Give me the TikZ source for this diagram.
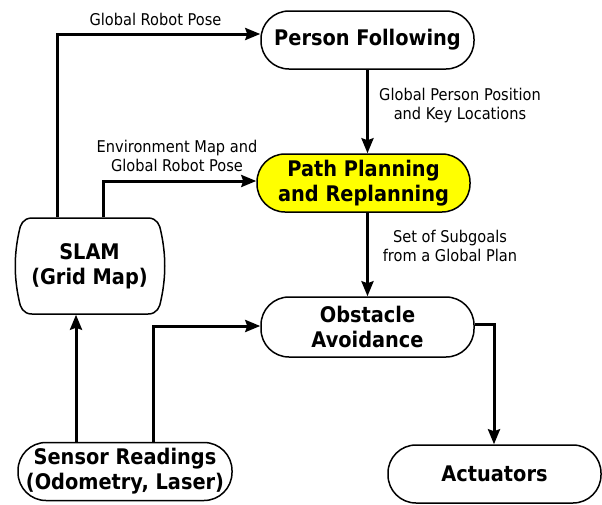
\documentclass[tikz,border=0pt]{standalone}
\usepackage{fontspec}
\setmainfont{DejaVu Sans}[FakeStretch=0.9]
\usetikzlibrary{arrows.meta}
\definecolor{boxyellow}{RGB}{255,255,0}
\tikzset{
  box/.style={draw=black, line width=1.5pt, rounded corners=28pt, minimum width=213pt, minimum height=58pt, inner sep=0pt, align=center, font=\fontsize{21.5}{25}\selectfont\bfseries},
  lab/.style={align=center, inner sep=0pt, font=\fontsize{16.2}{19}\selectfont},
  arr/.style={line width=3pt, -{Stealth[length=15pt,width=12pt,inset=2pt]}},
  plain/.style={line width=3pt}
}
\begin{document}
\begin{tikzpicture}[x=1pt,y=-1pt]
\useasboundingbox (0,0) rectangle (602,504);
% nodes
\node[box] (pf) at (367.5,40) {Person Following};
\node[box, fill=boxyellow] (pp) at (363.5,183) {Path Planning\\and Replanning};
\node[box, minimum height=60pt] (oa) at (367.5,327) {Obstacle\\Avoidance};
\node[box, minimum width=214pt] (sr) at (125,471.5) {Sensor Readings\\(Odometry, Laser)};
\node[box] (act) at (494.5,474) {Actuators};
\node[box, draw=none, minimum width=151pt, minimum height=96pt] (slam) at (89.5,266) {SLAM\\(Grid Map)};
\draw[line width=1.5pt] (32,218) -- (148,218)
  .. controls (157,218) and (160,225) .. (161,232)
  .. controls (166,255) and (166,277) .. (161,300)
  .. controls (160,307) and (157,314) .. (148,314)
  -- (32,314)
  .. controls (23,314) and (20,307) .. (19,300)
  .. controls (14,277) and (14,255) .. (19,232)
  .. controls (20,225) and (23,218) .. (32,218) -- cycle;
% bend points
\coordinate (c1) at (57,34);
\coordinate (c2) at (103,181);
\coordinate (c3) at (76,0);
\coordinate (c4) at (153,326);
\coordinate (c5) at (494,324);
% connectors
\draw[arr] (slam.north -| c1) |- (pf.west |- c1);
\draw[arr] (slam.north -| c2) |- (pp.west |- c2);
\draw[arr] (pf.south) -- (pp.north -| pf.south);
\draw[arr] (pp.south -| oa.north) -- (oa.north);
\draw[arr] (sr.north -| c3) -- (slam.south -| c3);
\draw[arr] (sr.north -| c4) |- (oa.west |- c4);
\draw[arr] (oa.east |- c5) -| (act.north -| c5);
% labels
\node[lab] (l1) at (155.5,19) {Global Robot Pose};
\node[lab] (l2) at (177,155.5) {Environment Map and\\Global Robot Pose};
\node[lab] (l3) at (460,105.5) {Global Person Position\\and Key Locations};
\node[lab] (l4) at (450,245.5) {Set of Subgoals\\from a Global Plan};
\end{tikzpicture}
\end{document}
